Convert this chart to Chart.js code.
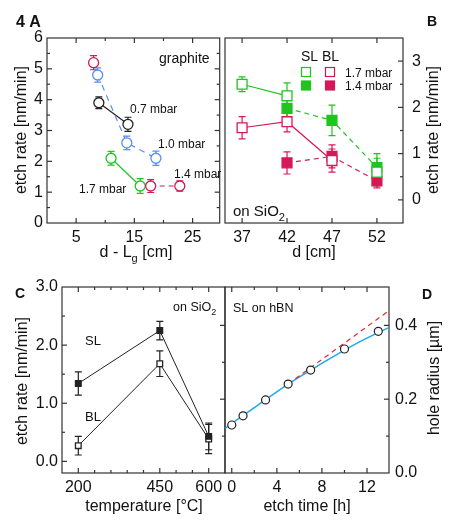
<!DOCTYPE html>
<html>
<head>
<meta charset="utf-8">
<script src="https://cdn.jsdelivr.net/npm/chart.js@4.4.1/dist/chart.umd.min.js"></script>
<style>
  body { margin: 0; background: #fff; }
  #wrap { position: relative; width: 450px; height: 525px; overflow: hidden; }
  canvas { position: absolute; }
</style>
</head>
<body>
<div id="wrap">
  <canvas id="cA" width="226" height="270" style="left:0;top:0"></canvas>
  <canvas id="cB" width="238" height="270" style="left:212px;top:0"></canvas>
  <canvas id="cC" width="232" height="255" style="left:0;top:270px"></canvas>
  <canvas id="cD" width="232" height="255" style="left:218px;top:270px"></canvas>
</div>
<script>
const FONT = '"Liberation Sans", Arial, Helvetica, sans-serif';

// ---- A: etch rate on graphite vs d - Lg ----
var aBlackX = [8.9, 13.9];
var aBlackY = [3.9, 3.2];
var aBlackErr = [0.19, 0.23];
var aBlueX = [8.7, 13.7, 18.7];
var aBlueY = [4.8, 2.6, 2.1];
var aBlueErr = [0.23, 0.22, 0.23];
var aGreenX = [11.0, 16.0];
var aGreenY = [2.1, 1.2];
var aGreenErr = [0.22, 0.24];
var aPinkX = [8.0, 17.8, 22.8];
var aPinkY = [5.2, 1.2, 1.2];
var aPinkErr = [0.23, 0.21, 0.17];
var aXTicks = [5, 15, 25];
var aYTicks = [0, 1, 2, 3, 4, 5, 6];

// ---- B: etch rate on SiO2 vs d ----
var bGreenOpenX = [37, 42, 52];
var bGreenOpenY = [2.5, 2.25, 0.6];
var bGreenOpenErr = [0.16, 0.28, 0.3];
var bGreenFillX = [42, 47, 52];
var bGreenFillY = [1.98, 1.72, 0.7];
var bGreenFillErr = [0.2, 0.33, 0.3];
var bPinkOpenX = [37, 42, 47];
var bPinkOpenY = [1.56, 1.69, 0.85];
var bPinkOpenErr = [0.24, 0.22, 0.25];
var bPinkFillX = [42, 47, 52];
var bPinkFillY = [0.8, 0.94, 0.41];
var bPinkFillErr = [0.24, 0.25, 0.15];
var bXTicks = [37, 42, 47, 52];
var bYTicks = [0, 1, 2, 3];

// ---- C: etch rate vs temperature ----
var cTemp = [200, 450, 600];
var cSL = [1.34, 2.25, 0.43];
var cSLErr = [0.2, 0.16, 0.23];
var cBL = [0.27, 1.68, 0.385];
var cBLErr = [0.16, 0.22, 0.25];
var cXTicks = [200, 450, 600];
var cYTicks = [0, 1, 2, 3];

// ---- D: hole radius vs etch time ----
var dTime = [0, 1, 3, 5, 7, 10, 13];
var dRadius = [0.13, 0.155, 0.198, 0.241, 0.279, 0.336, 0.384];
var dFitT = [-0.6, 2, 5, 8, 11, 14];
var dFitR = [0.121, 0.177, 0.241, 0.297, 0.350, 0.395];
var dLinT = [5, 14];
var dLinR = [0.241, 0.441];
var dXTicks = [0, 4, 8, 12];
var dYTicks = [0, 0.2, 0.4];

var GREEN = '#1fc41f', PINK = '#d6185a', BLUE = '#5b8df0', BLACK = '#222';
var CYAN = '#1ea7ee', RED = '#e8262c';

function pts(xs, ys) {
  return xs.map((x, i) => ({ x: x, y: ys[i] }));
}

// draw text, "_c" puts c as subscript
function drawText(ctx, t) {
  const size = t.size || 12;
  const mainF = (t.bold ? 'bold ' : '') + size + 'px ' + FONT;
  const subF = Math.round(size * 0.7) + 'px ' + FONT;
  const parts = t.text.split(/_(.)/);
  ctx.save();
  ctx.fillStyle = '#111';
  ctx.textBaseline = t.mid ? 'middle' : 'alphabetic';
  ctx.textAlign = 'left';
  let w = 0;
  parts.forEach((p, i) => { ctx.font = i % 2 ? subF : mainF; w += ctx.measureText(p).width; });
  ctx.translate(t.x, t.y);
  if (t.rot) ctx.rotate(-Math.PI / 2);
  let cx = t.center ? -w / 2 : 0;
  parts.forEach((p, i) => {
    ctx.font = i % 2 ? subF : mainF;
    ctx.fillText(p, cx, i % 2 ? size * 0.3 : 0);
    cx += ctx.measureText(p).width;
  });
  ctx.restore();
}

const errorBars = {
  id: 'errorBars',
  beforeDatasetsDraw(chart) {
    const ctx = chart.ctx, xs = chart.scales.x, ys = chart.scales.y;
    chart.data.datasets.forEach(ds => {
      if (!ds.errors) return;
      ctx.save();
      ctx.strokeStyle = ds.borderColor;
      ctx.lineWidth = 1.2;
      ds.data.forEach((p, j) => {
        const e = ds.errors[j];
        const px = xs.getPixelForValue(p.x);
        const y1 = ys.getPixelForValue(p.y - e), y2 = ys.getPixelForValue(p.y + e);
        ctx.beginPath();
        ctx.moveTo(px, y1); ctx.lineTo(px, y2);
        ctx.moveTo(px - 3.5, y1); ctx.lineTo(px + 3.5, y1);
        ctx.moveTo(px - 3.5, y2); ctx.lineTo(px + 3.5, y2);
        ctx.stroke();
      });
      ctx.restore();
    });
  }
};

// frame, inward ticks, legend boxes and labels of one panel
function makePanel(o) {
  return {
    id: 'panel',
    beforeDatasetsDraw(chart) {
      const ctx = chart.ctx, a = chart.chartArea, x = chart.scales.x, y = chart.scales.y;
      ctx.save();
      ctx.strokeStyle = '#333';
      ctx.lineWidth = 1.2;
      ctx.strokeRect(a.left, a.top, a.right - a.left, a.bottom - a.top);
      const line = (x1, y1, x2, y2) => { ctx.beginPath(); ctx.moveTo(x1, y1); ctx.lineTo(x2, y2); ctx.stroke(); };
      [[o.xMajor, 5], [o.xMinor, 3]].forEach(([vals, L]) => vals.forEach(v => {
        const p = x.getPixelForValue(v);
        line(p, a.bottom, p, a.bottom - L);
        line(p, a.top, p, a.top + L);
      }));
      [[o.yMajor, 5], [o.yMinor, 3]].forEach(([vals, L]) => vals.forEach(v => {
        const p = y.getPixelForValue(v);
        if (o.left === 'in') line(a.left, p, a.left + L, p);
        if (o.left === 'out') line(a.left, p, a.left - L, p);
        if (o.right) line(a.right, p, a.right - L, p);
      }));
      ctx.restore();
    },
    afterDraw(chart) {
      const ctx = chart.ctx;
      (o.boxes || []).forEach(b => {
        ctx.save();
        ctx.lineWidth = 1.2;
        ctx.strokeStyle = b.color;
        ctx.fillStyle = b.solid ? b.color : '#fff';
        ctx.fillRect(b.x - 4.5, b.y - 4.5, 9, 9);
        ctx.strokeRect(b.x - 4.5, b.y - 4.5, 9, 9);
        ctx.restore();
      });
      (o.texts || []).forEach(t => drawText(ctx, t));
    }
  };
}

function axis(min, max, ticks, size, pad, fmt, pos) {
  return {
    type: 'linear', min: min, max: max, position: pos,
    grid: { display: false, drawTicks: false },
    border: { display: false },
    ticks: {
      color: '#111', padding: pad, font: { family: FONT, size: 16 },
      callback: fmt || (v => v)
    },
    afterBuildTicks: s => { s.ticks = ticks.map(v => ({ value: v })); },
    afterFit: s => {
      if (s.isHorizontal()) s.height = size; else s.width = size;
      s.paddingLeft = s.paddingRight = s.paddingTop = s.paddingBottom = 0;
    }
  };
}

function base(padding, scales) {
  return {
    responsive: false, animation: false, events: [],
    layout: { padding: padding },
    plugins: { legend: { display: false }, tooltip: { enabled: false } },
    scales: scales
  };
}

function series(xs, ys, errs, color, opts) {
  return Object.assign({
    data: pts(xs, ys), errors: errs,
    borderColor: color, borderWidth: 1.2,
    pointBorderColor: color, pointBackgroundColor: '#fff',
    pointBorderWidth: 1.3, pointRadius: 5, pointStyle: 'circle',
    showLine: true, fill: false
  }, opts || {});
}

const hideSeg = idx => ({ borderColor: c => c.p0DataIndex === idx ? 'rgba(0,0,0,0)' : undefined });

// ---- chart A ----
new Chart(document.getElementById('cA'), {
  type: 'scatter',
  data: { datasets: [
    series(aPinkX, aPinkY, aPinkErr, PINK, { borderDash: [5, 4], segment: hideSeg(0) }),
    series(aBlueX, aBlueY, aBlueErr, BLUE, { borderDash: [6, 5] }),
    series(aBlackX, aBlackY, aBlackErr, BLACK),
    series(aGreenX, aGreenY, aGreenErr, GREEN)
  ] },
  options: base({ left: 0, top: 38, right: 1, bottom: 0 }, {
    x: axis(0, 29.65, aXTicks, 47, 5),
    y: axis(0, 6, aYTicks, 47, 4)
  }),
  plugins: [errorBars, makePanel({
    xMajor: [5, 15, 25], xMinor: [10, 20],
    yMajor: [1, 2, 3, 4, 5], yMinor: [0.5, 1.5, 2.5, 3.5, 4.5, 5.5],
    left: 'in', right: true,
    texts: [
      { text: '4 A', x: 16, y: 27, size: 16, bold: true },
      { text: 'etch rate [nm/min]', x: 22, y: 130, size: 16, rot: true, center: true, mid: true },
      { text: 'd - L_g [cm]', x: 136, y: 257, size: 16, center: true },
      { text: 'graphite', x: 159, y: 63, size: 14 },
      { text: '0.7 mbar', x: 130, y: 113, size: 12 },
      { text: '1.0 mbar', x: 158, y: 148, size: 12 },
      { text: '1.4 mbar', x: 174, y: 178, size: 12 },
      { text: '1.7 mbar', x: 79, y: 193, size: 12 }
    ]
  })]
});

// ---- chart B (canvas starts at page x 212) ----
new Chart(document.getElementById('cB'), {
  type: 'scatter',
  data: { datasets: [
    series(bGreenOpenX, bGreenOpenY, bGreenOpenErr, GREEN, { pointStyle: 'rect', pointRadius: 7, segment: hideSeg(1) }),
    series(bPinkOpenX, bPinkOpenY, bPinkOpenErr, PINK, { pointStyle: 'rect', pointRadius: 7 }),
    series(bGreenFillX, bGreenFillY, bGreenFillErr, GREEN, { pointStyle: 'rect', pointRadius: 7, pointBackgroundColor: GREEN, borderDash: [5, 4] }),
    series(bPinkFillX, bPinkFillY, bPinkFillErr, PINK, { pointStyle: 'rect', pointRadius: 7, pointBackgroundColor: PINK, borderDash: [5, 4] })
  ] },
  options: base({ left: 13, top: 38, right: 0, bottom: 0 }, {
    x: axis(35.1, 54.9, bXTicks, 47, 5),
    y: axis(-0.5, 3.5, bYTicks, 47, 9, null, 'right')
  }),
  plugins: [errorBars, makePanel({
    xMajor: [37, 42, 47, 52], xMinor: [],
    yMajor: [0, 1, 2, 3], yMinor: [0.5, 1.5, 2.5],
    left: 'none', right: true,
    boxes: [
      { x: 94, y: 72, color: GREEN }, { x: 118, y: 72, color: PINK },
      { x: 94, y: 85.5, color: GREEN, solid: true }, { x: 118, y: 85.5, color: PINK, solid: true }
    ],
    texts: [
      { text: 'B', x: 215, y: 26, size: 14, bold: true },
      { text: 'etch rate [nm/min]', x: 222, y: 130, size: 16, rot: true, center: true, mid: true },
      { text: 'd [cm]', x: 102, y: 257, size: 16, center: true },
      { text: 'SL BL', x: 89, y: 61, size: 14 },
      { text: '1.7 mbar', x: 133, y: 77, size: 12 },
      { text: '1.4 mbar', x: 133, y: 90, size: 12 },
      { text: 'on SiO_2', x: 21, y: 216, size: 15 }
    ]
  })]
});

// ---- chart C ----
new Chart(document.getElementById('cC'), {
  type: 'scatter',
  data: { datasets: [
    series(cTemp, cSL, cSLErr, BLACK, { pointStyle: 'rect', pointRadius: 4, pointBackgroundColor: BLACK, borderWidth: 1 }),
    series(cTemp, cBL, cBLErr, BLACK, { pointStyle: 'rect', pointRadius: 4, borderWidth: 1 })
  ] },
  options: base({ left: 0, top: 17, right: 7, bottom: 0 }, {
    x: axis(150, 650, cXTicks, 52, 5),
    y: axis(-0.2, 3.0, cYTicks, 62, 4, v => v.toFixed(1))
  }),
  plugins: [errorBars, makePanel({
    xMajor: [200, 450, 600], xMinor: [250, 300, 350, 400, 500, 550],
    yMajor: [0, 1, 2], yMinor: [0.5, 1.5, 2.5],
    left: 'in', right: false,
    texts: [
      { text: 'C', x: 15, y: 28, size: 14, bold: true },
      { text: 'etch rate [nm/min]', x: 23, y: 111, size: 16, rot: true, center: true, mid: true },
      { text: 'temperature [°C]', x: 144, y: 241, size: 16, center: true },
      { text: 'SL', x: 85, y: 75, size: 13 },
      { text: 'BL', x: 85, y: 151, size: 13 },
      { text: 'on SiO_2', x: 173, y: 41, size: 12.5 }
    ]
  })]
});

// ---- chart D (canvas starts at page x 218) ----
new Chart(document.getElementById('cD'), {
  type: 'scatter',
  data: { datasets: [
    { data: pts(dTime, dRadius), showLine: false, pointStyle: 'circle', pointRadius: 4,
      pointBorderColor: BLACK, pointBackgroundColor: '#fff', pointBorderWidth: 1.2 },
    { data: pts(dLinT, dLinR), showLine: true, pointRadius: 0, borderColor: RED,
      borderWidth: 1.2, borderDash: [5, 4] },
    { data: pts(dFitT, dFitR), showLine: true, pointRadius: 0, borderColor: CYAN,
      borderWidth: 1.5, cubicInterpolationMode: 'monotone' }
  ] },
  options: base({ left: 7, top: 17, right: 0, bottom: 0 }, {
    x: axis(-0.6, 13.95, dXTicks, 52, 5),
    y: axis(0, 0.504, dYTicks, 61, 6, v => v.toFixed(1), 'right')
  }),
  plugins: [errorBars, makePanel({
    xMajor: [0, 4, 8, 12], xMinor: [2, 6, 10],
    yMajor: [0.2, 0.4], yMinor: [0.1, 0.3],
    left: 'out', right: true,
    texts: [
      { text: 'D', x: 204, y: 29, size: 14, bold: true },
      { text: 'hole radius [µm]', x: 217, y: 108, size: 16, rot: true, center: true, mid: true },
      { text: 'etch time [h]', x: 89, y: 241, size: 16, center: true },
      { text: 'SL on hBN', x: 15, y: 42, size: 12.5 }
    ]
  })]
});
</script>
</body>
</html>
